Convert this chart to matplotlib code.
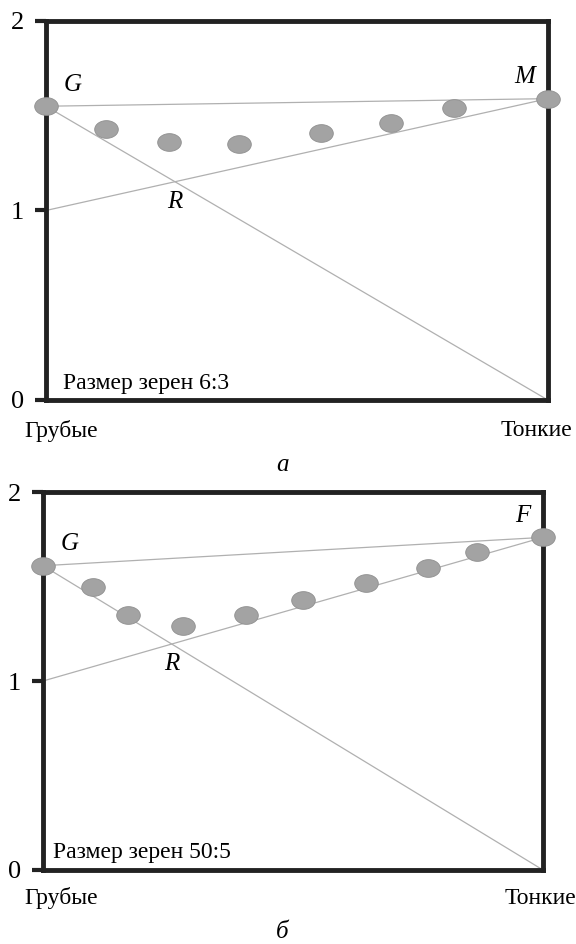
import numpy as np
import matplotlib.pyplot as plt
from matplotlib.path import Path

# точки (доля тонких, плотность упаковки)
x_a = [0.0, 0.12, 0.245, 0.385, 0.548, 0.687, 0.813, 1.0]
y_a = [1.55, 1.43, 1.36, 1.35, 1.41, 1.46, 1.54, 1.59]
x_b = [0.0, 0.10, 0.17, 0.28, 0.406, 0.52, 0.646, 0.77, 0.868, 1.0]
y_b = [1.61, 1.50, 1.35, 1.29, 1.35, 1.43, 1.52, 1.60, 1.68, 1.76]
labels_a = ['G', 'M']
labels_b = ['G', 'F']
titles = ['Размер зерен 6:3', 'Размер зерен 50:5']
letters = ['а', 'б']

plt.rcParams['font.family'] = ['Liberation Serif', 'DejaVu Serif']

# эллиптический маркер
t = np.linspace(0, 2 * np.pi, 60)
ell = Path(np.column_stack([np.cos(t), 0.75 * np.sin(t)]), closed=True)

fig = plt.figure(figsize=(5.76, 9.44), dpi=100)
ax1 = fig.add_axes([0.0799, 0.5763, 0.8711, 0.4015])
ax2 = fig.add_axes([0.0747, 0.0784, 0.8680, 0.4004])


def draw_panel(ax, xs, ys, names, title, tx, ty):
    g = ys[0]
    end = ys[-1]
    line_kw = dict(color='#b0b0b0', lw=0.9, zorder=1)
    ax.plot([0, 1], [g, end], **line_kw)
    ax.plot([0, 1], [g, 0], **line_kw)
    ax.plot([0, 1], [1, end], **line_kw)
    ax.plot(xs, ys, ls='none', marker=ell, ms=17, mfc='#a3a3a3',
            mec='#8f8f8f', mew=0.6, clip_on=False, zorder=3)

    # пересечение R
    xr = (g - 1) / (end - 1 + g)
    yr = 1 + (end - 1) * xr
    ax.text(xr, yr - 0.05, 'R', style='italic', fontsize=18,
            ha='center', va='top')
    ax.text(0.035, g + 0.055, names[0], style='italic', fontsize=18,
            ha='left', va='bottom')
    ax.text(0.975, end + 0.055, names[1], style='italic', fontsize=18,
            ha='right', va='bottom')
    ax.text(tx, ty, title, fontsize=17, ha='left', va='center')

    ax.set_xlim(0, 1)
    ax.set_ylim(0, 2)
    ax.set_xticks([])
    ax.set_yticks([0, 1, 2])
    ax.set_yticklabels(['0', '1', '2'], fontsize=19)
    ax.tick_params(axis='y', direction='out', length=8, width=3,
                   color='#222222', pad=8)
    for s in ax.spines.values():
        s.set_linewidth(3.5)
        s.set_color('#222222')


draw_panel(ax1, x_a, y_a, labels_a, titles[0], 0.034, 0.085)
draw_panel(ax2, x_b, y_b, labels_b, titles[1], 0.02, 0.095)

# подписи под осями
fig.text(0.043, 1 - 431 / 944, 'Грубые', fontsize=17, ha='left', va='center')
fig.text(0.993, 1 - 431 / 944, 'Тонкие', fontsize=17, ha='right', va='center')
fig.text(0.49, 1 - 465 / 944, letters[0], style='italic', fontsize=18,
         ha='center', va='center')
fig.text(0.043, 1 - 898 / 944, 'Грубые', fontsize=17, ha='left', va='center')
fig.text(1.0, 1 - 898 / 944, 'Тонкие', fontsize=17, ha='right', va='center')
fig.text(0.49, 1 - 932 / 944, letters[1], style='italic', fontsize=18,
         ha='center', va='center')

fig.savefig('out.png', dpi=100)
